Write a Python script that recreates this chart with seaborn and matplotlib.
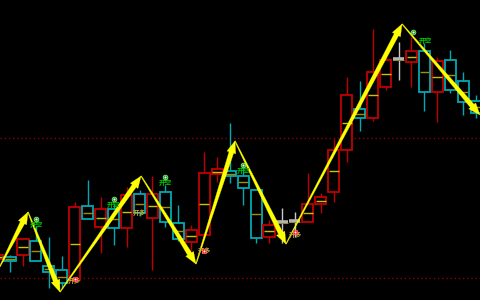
import numpy as np
import pandas as pd
import matplotlib
matplotlib.use("Agg")
import matplotlib.pyplot as plt
import seaborn as sns
from matplotlib.patches import Polygon, Rectangle

# ---- candle data (index, open, close, high, low) ----
idx    = list(range(-1, 37))
opens  = [41, 43, 45, 59, 34, 30, 20, 94, 73, 91, 72, 106, 82, 108, 77, 58, 65, 126, 129, 124, 110, 63, 78, 79,
          78, 96, 108, 150, 191, 182, 213, 241, 238, 249, 208, 240, 219, 199]
closes = [45, 39, 61, 39, 28, 17, 93, 81, 91, 72, 105, 87, 106, 78, 61, 70, 127, 131, 124, 112, 62, 75, 78, 79,
          96, 103, 150, 205, 182, 228, 240, 241, 249, 208, 239, 210, 198, 187]
highs  = [48, 45, 61, 74, 63, 44, 98, 120, 103, 96, 113, 110, 124, 115, 95, 75, 148, 143, 177, 132, 110, 80, 92, 88,
          127, 107, 161, 223, 219, 271, 243, 258, 263, 257, 243, 250, 228, 205]
lows   = [38, 28, 34, 39, 12, 12, 18, 81, 47, 55, 53, 84, 30, 73, 59, 50, 64, 118, 117, 95, 57, 57, 57, 63,
          78, 87, 98, 138, 169, 179, 210, 220, 213, 189, 178, 207, 185, 182]

# ---- zigzag pivots ----
zz_x = [-0.8, 1.39, 3.86, 10.12, 14.36, 17.37, 21.31, 30.27, 36.29]
zz_y = [33, 88, 8, 124, 36, 159, 56, 276, 185]

# ---- signals ----
sig_x    = [2.0, 5.0, 8.0, 10.0, 12.0, 15.0, 18.0, 22.0, 32.1]
sig_y    = [75, 20, 95, 87, 118, 49, 129, 66, 259]
sig_text = ["开空", "开多", "开空", "开多", "开空", "开多", "开空", "开多", "开空"]
dot_x    = [2.0, 5.0, 8.0, 12.0, 15.0, 18.0, 22.0, 31.1]
dot_y    = [81, 21, 101, 123, 49, 135, 68, 268]
dot_kind = ["short", "long", "short", "short", "long", "short", "long", "short"]

# ---- reference levels ----
levels = [162, 22]

df = pd.DataFrame({"i": idx, "open": opens, "close": closes, "high": highs, "low": lows})

sns.set_style("dark", {"axes.facecolor": "black", "figure.facecolor": "black"})
plt.rcParams["font.family"] = ["Noto Sans CJK SC", "DejaVu Sans"]

fig = plt.figure(figsize=(4.8, 3.0), dpi=100)
fig.patch.set_facecolor("black")
ax = fig.add_axes([0, 0, 1, 1])
ax.set_facecolor("black")
ax.set_xlim(-0.772, 36.29)
ax.set_ylim(0, 300)
ax.axis("off")

RED = "#c00000"
CYAN = "#00aab4"
GRAY = "#b4b4b4"

for lv in levels:
    ax.axhline(lv, color="#8b0000", lw=1.0, ls=(0, (1, 2)), zorder=1)

w = 0.86
for _, r in df.iterrows():
    o, c, h, l, x = r["open"], r["close"], r["high"], r["low"], r["i"]
    if o == c:
        ax.vlines(x, l, h, color="#c8c8c8", lw=1.0, zorder=2)
        ax.hlines(o, x - w / 2, x + w / 2, color=GRAY, lw=2.6, zorder=3)
        ax.hlines(o - 0.6, x - w / 2, x + w / 2, color="#8a8a40", lw=0.8, zorder=4)
        continue
    col = RED if c > o else CYAN
    ax.vlines(x, l, h, color=col, lw=1.0, zorder=2)
    lo, hi = min(o, c), max(o, c)
    ax.add_patch(Rectangle((x - w / 2, lo), w, hi - lo, facecolor="black",
                           edgecolor=col, lw=1.3, zorder=3))
    mid_col = "#d0c000" if c > o else "#a09000"
    ax.hlines((o + c) / 2, x - w / 2 + 0.05, x + w / 2 - 0.05, color=mid_col, lw=1.0, zorder=4)

# ---- tapered zigzag arrows ----
tr = ax.transData
inv = tr.inverted()
pts = tr.transform(np.column_stack([zz_x, zz_y]))
for k in range(len(pts) - 1):
    A, B = pts[k], pts[k + 1]
    d = B - A
    L = np.hypot(*d)
    d = d / L
    n = np.array([-d[1], d[0]])
    hl = 12.0
    C = B - d * hl
    poly_px = [A + n * 0.4, C + n * 2.4, C + n * 4.6, B, C - n * 4.6, C - n * 2.4, A - n * 0.4]
    poly = inv.transform(np.array(poly_px))
    ax.add_patch(Polygon(poly, closed=True, facecolor="#ffff00", edgecolor="#ffff00",
                         lw=0.2, zorder=6))

# ---- signal labels ----
for x, y, t in zip(sig_x, sig_y, sig_text):
    col = "#00c800" if t == "开空" else "#c8a830"
    ax.text(x, y, t, color=col, fontsize=4.8, ha="center", va="center", zorder=7,
            fontweight="bold")

dots = pd.DataFrame({"x": dot_x, "y": dot_y, "kind": dot_kind})
sns.scatterplot(data=dots[dots.kind == "short"], x="x", y="y", ax=ax, marker="o", s=12,
                color="#20a020", edgecolor="#90ff90", linewidth=0.5, zorder=8, legend=False)
sns.scatterplot(data=dots[dots.kind == "long"], x="x", y="y", ax=ax, marker="s", s=10,
                color="#ff2020", edgecolor="#ff7070", linewidth=0.5, zorder=8, legend=False)
sns.scatterplot(data=dots, x="x", y="y", ax=ax, marker="o", s=2, color="white",
                linewidth=0, zorder=9, legend=False)

ax.set_xlim(-0.772, 36.29)
ax.set_ylim(0, 300)
ax.axis("off")
fig.savefig("out.png", dpi=100, facecolor="black")
